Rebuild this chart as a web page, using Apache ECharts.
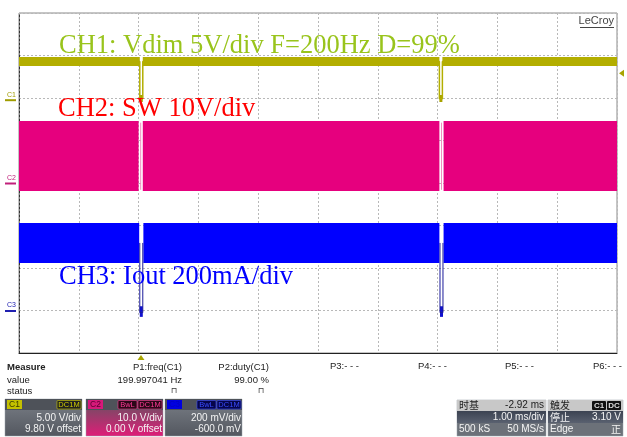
<!DOCTYPE html>
<html><head><meta charset="utf-8">
<script src="https://cdn.jsdelivr.net/npm/echarts@6/dist/echarts.min.js"></script>
<style>html,body{margin:0;padding:0;background:#fff}#c{width:627px;height:437px}</style>
</head><body><div id="c"></div>
<script>
// ---- scope settings ----
const timeDivs = [0, 10];          // 1.00 ms/div, 10 divisions
const vertDivs = [-4, 4];          // 8 vertical divisions
const c1Scale = 5,   c1Offset = 9.8;    // V/div, V offset
const c2Scale = 10,  c2Offset = 0;      // V/div, V offset
const c3Scale = 200, c3Offset = -600;   // mV/div, mV offset
const trigLevel = 3.10;                 // V on C1
const trigTime = 2.04;                  // ms

// ---- channel 1 (Vdim, V) ----
const c1Band = [[0, 2.02, 3.96, 5.02], [2.07, 7.03, 3.96, 5.02], [7.08, 10, 3.96, 5.02]];
const c1Foot = [[2.02, 2.07, -0.27, 0.55], [7.03, 7.08, -0.27, 0.55]];
const c1Trace = [[0, 4.5], [2.02, 4.5], [2.02, 0.1], [2.07, 0.1], [2.07, 4.5],
                 [7.03, 4.5], [7.03, 0.1], [7.08, 0.1], [7.08, 4.5], [10, 4.5]];
// ---- channel 2 (SW, V) ----
const c2Band = [[0, 2.00, -1.9, 14.6], [2.07, 7.03, -1.9, 14.6], [7.10, 10, -1.9, 14.6]];
const c2GapLine1 = [[2.035, 14.2], [2.035, -1.6]];
const c2GapLine2 = [[7.065, 14.2], [7.065, -1.6]];
// ---- channel 3 (Iout, mV) ----
const c3Band = [[0, 2.01, 224, 412], [2.08, 7.03, 224, 412], [7.10, 10, 224, 412]];
const c3Foot = [[2.02, 2.07, -30, 20], [7.04, 7.09, -30, 20]];
const c3Trace1 = [[2.02, 318], [2.02, -10], [2.07, -10], [2.07, 318]];
const c3Trace2 = [[7.04, 318], [7.04, -10], [7.09, -10], [7.09, 318]];

// ---- labels ----
const ch1Text = 'CH1: Vdim 5V/div F=200Hz D=99%';
const ch2Text = 'CH2: SW 10V/div';
const ch3Text = 'CH3: Iout 200mA/div';
const measNames = ['P1:freq(C1)', 'P2:duty(C1)', 'P3:- - -', 'P4:- - -', 'P5:- - -', 'P6:- - -'];
const measValues = ['199.997041 Hz', '99.00 %'];
const chanBoxes = [
  {name: 'C1', tags: ['DC1M'], l1: '5.00 V/div', l2: '9.80 V offset'},
  {name: 'C2', tags: ['BwL', 'DC1M'], l1: '10.0 V/div', l2: '0.00 V offset'},
  {name: 'C3', tags: ['BwL', 'DC1M'], l1: '200 mV/div', l2: '-600.0 mV'}
];
const timebase = {title: '时基', delay: '-2.92 ms', div: '1.00 ms/div', samples: '500 kS', rate: '50 MS/s'};
const trigger = {title: '触发', src: 'C1', cpl: 'DC', mode: '停止', level: '3.10 V', type: 'Edge', slope: '正'};

const C1 = '#b3ae00', C2 = '#e6007e', C3 = '#0000ff';

function chAxis(scale, offset) {
  return {type: 'value', min: vertDivs[0] * scale - offset, max: vertDivs[1] * scale - offset, show: false};
}
function bandSeries(data, yi, color) {
  return {
    type: 'custom', yAxisIndex: yi, data: data, silent: true, clip: true,
    encode: {x: [0, 1], y: [2, 3]},
    renderItem: function (params, api) {
      const a = api.coord([api.value(0), api.value(3)]);
      const b = api.coord([api.value(1), api.value(2)]);
      return {type: 'rect', shape: {x: a[0], y: a[1], width: b[0] - a[0], height: b[1] - a[1]},
              style: {fill: color}};
    }
  };
}
function lineSeries(data, yi, color, w) {
  return {type: 'line', yAxisIndex: yi, data: data, showSymbol: false, silent: true,
          lineStyle: {color: color, width: w}, z: 3};
}

const chart = echarts.init(document.getElementById('c'), null, {renderer: 'canvas'});
chart.setOption({
  animation: false,
  backgroundColor: '#fff',
  grid: {left: 19, right: 10, top: 13, bottom: 84, show: true, borderColor: '#8a8a8a', borderWidth: 1},
  xAxis: {type: 'value', min: timeDivs[0], max: timeDivs[1], interval: 1,
    axisLabel: {show: false}, axisTick: {show: false},
    axisLine: {show: true, onZero: false, lineStyle: {color: '#222', width: 1}},
    splitLine: {show: true, lineStyle: {color: '#b8b8b8', type: [2, 2], width: 1}}},
  yAxis: [
    {type: 'value', min: vertDivs[0], max: vertDivs[1], interval: 1,
     axisLabel: {show: false}, axisTick: {show: false},
     axisLine: {show: true, lineStyle: {color: '#333', type: [2, 2], width: 1}},
     splitLine: {show: true, lineStyle: {color: '#b8b8b8', type: [2, 2], width: 1}}},
    chAxis(c1Scale, c1Offset),
    chAxis(c2Scale, c2Offset),
    chAxis(c3Scale, c3Offset)
  ],
  series: [
    bandSeries(c2Band, 2, C2),
    lineSeries(c2GapLine1, 2, '#f08cc0', 1),
    lineSeries(c2GapLine2, 2, '#f08cc0', 1),
    bandSeries(c1Band, 1, C1),
    bandSeries(c1Foot, 1, '#a8a200'),
    lineSeries(c1Trace, 1, C1, 1.5),
    bandSeries(c3Band, 3, C3),
    bandSeries(c3Foot, 3, '#1010d0'),
    lineSeries(c3Trace1, 3, '#1a1a9a', 1),
    lineSeries(c3Trace2, 3, '#1a1a9a', 1)
  ]
});

// ---- graphics (labels, markers, status panels) ----
const g = [];
const SANS = '"Liberation Sans", Arial, sans-serif';
const CJK = '"Noto Sans CJK SC", "Liberation Sans", sans-serif';
function txt(x, y, s, o) {
  o = o || {};
  g.push({type: 'text', x: x, y: y, z: o.z || 10, silent: true,
    style: {text: s, fill: o.fill || '#222', font: o.font || ('10px ' + SANS),
            textAlign: o.align || 'left', textVerticalAlign: o.va || 'middle'}});
}
function rect(x, y, w, h, fill, o) {
  o = o || {};
  g.push({type: 'rect', z: o.z || 9, silent: true, shape: {x: x, y: y, width: w, height: h, r: o.r || 0},
    style: {fill: fill, stroke: o.stroke || null, lineWidth: o.lw || 1}});
}
function line(x1, y1, x2, y2, color, w) {
  g.push({type: 'line', z: 10, silent: true, shape: {x1: x1, y1: y1, x2: x2, y2: y2},
    style: {stroke: color, lineWidth: w || 1}});
}

// overlay annotations
const SERIF = '26.5px "Liberation Serif", "Times New Roman", serif';
txt(59, 33, ch1Text, {font: SERIF, fill: '#99c41c', va: 'top', z: 20});
txt(58, 96, ch2Text, {font: SERIF, fill: '#ff0000', va: 'top', z: 20});
txt(59, 263.5, ch3Text, {font: SERIF, fill: '#0000ff', va: 'top', z: 20});

// LeCroy logo
txt(614, 21, 'LeCroy', {font: '11px ' + SANS, fill: '#444', align: 'right'});
line(580, 27.5, 614, 27.5, '#444', 1);

// ground markers
const gx = 5;
[[1, 0, '#a09c00', 'C1'], [2, 0, '#c0207a', 'C2'], [3, 0, '#2020b0', 'C3']].forEach(function (m) {
  const py = chart.convertToPixel({yAxisIndex: m[0]}, m[1]);
  txt(gx + 2, py - 5, m[3], {font: '7px ' + SANS, fill: m[2]});
  line(gx, py + 0.5, gx + 11, py + 0.5, m[2], 2);
});

// trigger level marker (right) and trigger position marker (bottom)
const tl = chart.convertToPixel({xAxisIndex: 0, yAxisIndex: 1}, [timeDivs[1], trigLevel]);
g.push({type: 'polygon', z: 10, silent: true, shape: {points: [[tl[0] + 2, tl[1]], [tl[0] + 7, tl[1] - 3.5], [tl[0] + 7, tl[1] + 3.5]]}, style: {fill: '#a8a400'}});
const tp = chart.convertToPixel({xAxisIndex: 0, yAxisIndex: 0}, [trigTime, vertDivs[0]]);
g.push({type: 'polygon', z: 10, silent: true, shape: {points: [[tp[0], tp[1] + 2], [tp[0] - 3.5, tp[1] + 7], [tp[0] + 3.5, tp[1] + 7]]}, style: {fill: '#a8a400'}});

// measure table
const MF = '9.5px ' + SANS;
txt(7, 367, 'Measure', {font: 'bold 9.5px ' + SANS});
txt(7, 380, 'value', {font: MF});
txt(7, 391, 'status', {font: MF});
const measRight = [182, 269];
for (let i = 0; i < 2; i++) {
  txt(measRight[i], 367, measNames[i], {font: MF, align: 'right'});
  txt(measRight[i], 380, measValues[i], {font: MF, align: 'right'});
  txt(measRight[i] - 5, 391, '⊓', {font: '8px "DejaVu Sans", sans-serif', align: 'right', fill: '#333'});
}
const measLeft = [330, 418, 505, 593];
for (let i = 2; i < 6; i++) txt(measLeft[i - 2], 366, measNames[i], {font: MF});

// channel boxes
const boxX = [5, 86, 165];
const boxW = 77;
const boxCol = [
  {lab: '#c4c000', labTxt: '#3a3a00', tagBg: '#202020', tagTxt: '#d0cc00', body: ['#7a7f87', '#53575f']},
  {lab: '#d6197a', labTxt: '#5a0030', tagBg: '#2a0818', tagTxt: '#ff3a95', body: ['#5f5660', '#e01c78']},
  {lab: '#0000e0', labTxt: '#0000c0', tagBg: '#06064a', tagTxt: '#3a4cff', body: ['#7a7f87', '#53575f']}
];
chanBoxes.forEach(function (b, i) {
  const x = boxX[i], c = boxCol[i];
  rect(x, 399, boxW, 37, {type: 'linear', x: 0, y: 0, x2: 0, y2: 1,
    colorStops: [{offset: 0, color: c.body[0]}, {offset: 1, color: c.body[1]}]}, {stroke: '#9aa0a8', lw: 0.5});
  rect(x, 399, boxW, 11, '#4e5259');
  rect(x + 2, 400, 15, 9, c.lab);
  txt(x + 4, 404.5, b.name, {font: '8.5px ' + SANS, fill: c.labTxt});
  let tx = x + boxW - 1;
  for (let k = b.tags.length - 1; k >= 0; k--) {
    const w = b.tags[k].length > 3 ? 24 : 19;
    rect(tx - w, 400.5, w, 8.5, c.tagBg, {stroke: c.tagTxt, lw: 0.6, r: 1});
    txt(tx - w / 2, 404.8, b.tags[k], {font: '7.5px ' + SANS, fill: c.tagTxt, align: 'center'});
    tx -= w + 1;
  }
  txt(x + boxW - 1, 418, b.l1, {font: '10px ' + SANS, fill: '#f4f4f4', align: 'right'});
  txt(x + boxW - 1, 429.5, b.l2, {font: '10px ' + SANS, fill: '#f4f4f4', align: 'right'});
});

// timebase box
function infoBox(x, w) {
  rect(x, 400, w, 36, '#6c7179', {stroke: '#9aa0a8', lw: 0.5});
  rect(x, 400, w, 11, '#c8c8c8');
  rect(x, 411, w, 12, {type: 'linear', x: 0, y: 0, x2: 0, y2: 1,
    colorStops: [{offset: 0, color: '#3c4352'}, {offset: 1, color: '#5a6170'}]});
}
infoBox(457, 89);
txt(459, 405.5, timebase.title, {font: '10px ' + CJK, fill: '#222'});
txt(544, 405.5, timebase.delay, {font: '10px ' + SANS, fill: '#222', align: 'right'});
txt(544, 417.5, timebase.div, {font: '10px ' + SANS, fill: '#f4f4f4', align: 'right'});
txt(459, 429.5, timebase.samples, {font: '10px ' + SANS, fill: '#f4f4f4'});
txt(544, 429.5, timebase.rate, {font: '10px ' + SANS, fill: '#f4f4f4', align: 'right'});

infoBox(548, 75);
txt(550, 405.5, trigger.title, {font: '10px ' + CJK, fill: '#222'});
rect(592, 401, 14, 9, '#111', {r: 1});
txt(599, 405.5, trigger.src, {font: 'bold 8px ' + SANS, fill: '#ddd', align: 'center'});
rect(607, 401, 14, 9, '#111', {r: 1});
txt(614, 405.5, trigger.cpl, {font: 'bold 8px ' + SANS, fill: '#ddd', align: 'center'});
txt(550, 417.5, trigger.mode, {font: '10px ' + CJK, fill: '#f4f4f4'});
txt(621, 417.5, trigger.level, {font: '10px ' + SANS, fill: '#f4f4f4', align: 'right'});
txt(550, 429.5, trigger.type, {font: '10px ' + SANS, fill: '#f4f4f4'});
txt(621, 429.5, trigger.slope, {font: '10px ' + CJK, fill: '#f4f4f4', align: 'right'});

chart.setOption({graphic: g});
</script></body></html>
